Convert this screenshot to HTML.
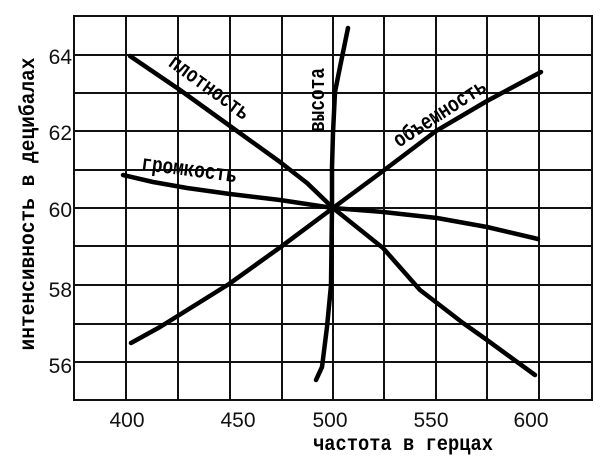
<!DOCTYPE html>
<html>
<head>
<meta charset="utf-8">
<style>
  html, body { margin:0; padding:0; background:#fff; }
  body { width:600px; height:470px; overflow:hidden; }
  svg { display:block; }
  .tick { font-family:"Liberation Sans", "DejaVu Sans", sans-serif; font-size:21px; fill:#111; }
  .lab { font-family:"Liberation Mono", "DejaVu Sans Mono", monospace; font-weight:bold; fill:#000; }
</style>
</head>
<body>
<svg width="600" height="470" viewBox="0 0 600 470" xmlns="http://www.w3.org/2000/svg">
  <rect width="600" height="470" fill="#fff"/>
  <g stroke="#111" stroke-width="2" fill="none">
    <!-- horizontal grid -->
    <line x1="73" y1="16" x2="593" y2="16"/>
    <line x1="73" y1="55" x2="593" y2="55"/>
    <line x1="73" y1="93" x2="593" y2="93"/>
    <line x1="73" y1="131" x2="593" y2="131"/>
    <line x1="73" y1="170" x2="593" y2="170"/>
    <line x1="73" y1="208" x2="593" y2="208"/>
    <line x1="73" y1="246" x2="593" y2="246"/>
    <line x1="73" y1="285" x2="593" y2="285"/>
    <line x1="73" y1="324" x2="593" y2="324"/>
    <line x1="73" y1="362" x2="593" y2="362"/>
    <line x1="73" y1="400" x2="593" y2="400"/>
    <!-- vertical grid -->
    <line x1="74" y1="15" x2="74" y2="401"/>
    <line x1="126" y1="15" x2="126" y2="401"/>
    <line x1="178" y1="15" x2="178" y2="401"/>
    <line x1="230" y1="15" x2="230" y2="401"/>
    <line x1="282" y1="15" x2="282" y2="401"/>
    <line x1="333" y1="15" x2="333" y2="401"/>
    <line x1="384" y1="15" x2="384" y2="401"/>
    <line x1="436" y1="15" x2="436" y2="401"/>
    <line x1="487" y1="15" x2="487" y2="401"/>
    <line x1="539" y1="15" x2="539" y2="401"/>
    <line x1="592" y1="15" x2="592" y2="401"/>
  </g>

  <!-- curves -->
  <g stroke="#000" stroke-width="4.5" fill="none" stroke-linecap="round" stroke-linejoin="round">
    <!-- плотность -->
    <polyline points="130,56 180,90 230,126 280,162 307,183 333,208 383,248 420,290 437,303 463,323 487,340 535,375"/>
    <!-- громкость -->
    <polyline points="123,175 153,182 187,188 230,194 280,200 333,208 383,212 437,218 487,227 538,239"/>
    <!-- объемность -->
    <polyline points="131,343 160,327 229,284 282,246 333,208 383,171 436,131 487,101 541,72"/>
    <!-- высота -->
    <polyline points="348,28 340,67 335,92 333,133 332,167 332,208 331,285 327,327 322,367 316,380"/>
  </g>

  <!-- tick labels y -->
  <g class="tick" text-anchor="end">
    <text x="72" y="64">64</text>
    <text x="72" y="140">62</text>
    <text x="72" y="217">60</text>
    <text x="72" y="297">58</text>
    <text x="72" y="373">56</text>
  </g>
  <!-- tick labels x -->
  <g class="tick" text-anchor="middle">
    <text x="127" y="427">400</text>
    <text x="238" y="427">450</text>
    <text x="330" y="427">500</text>
    <text x="431" y="427">550</text>
    <text x="531" y="427">600</text>
  </g>

  <!-- axis titles -->
  <text class="lab" x="403" y="450" font-size="21" text-anchor="middle" textLength="180" lengthAdjust="spacingAndGlyphs">частота в герцах</text>
  <g transform="translate(34,204) rotate(-90)">
    <text class="lab" x="0" y="0" font-size="21" text-anchor="middle" textLength="293" lengthAdjust="spacingAndGlyphs">интенсивность в децибалах</text>
  </g>

  <!-- curve labels -->
  <g transform="translate(209,88) rotate(36)">
    <text class="lab" x="0" y="6" font-size="22" text-anchor="middle" textLength="94" lengthAdjust="spacingAndGlyphs">плотность</text>
  </g>
  <g transform="translate(189,170) rotate(7.5)">
    <text class="lab" x="0" y="6" font-size="22" text-anchor="middle" textLength="96" lengthAdjust="spacingAndGlyphs">громкость</text>
  </g>
  <g transform="translate(318,100) rotate(-90)">
    <text class="lab" x="0" y="6" font-size="22" text-anchor="middle" textLength="64" lengthAdjust="spacingAndGlyphs">высота</text>
  </g>
  <g transform="translate(440,114) rotate(-33)">
    <text class="lab" x="0" y="6" font-size="22" text-anchor="middle" textLength="106" lengthAdjust="spacingAndGlyphs">объемность</text>
  </g>
</svg>
</body>
</html>
